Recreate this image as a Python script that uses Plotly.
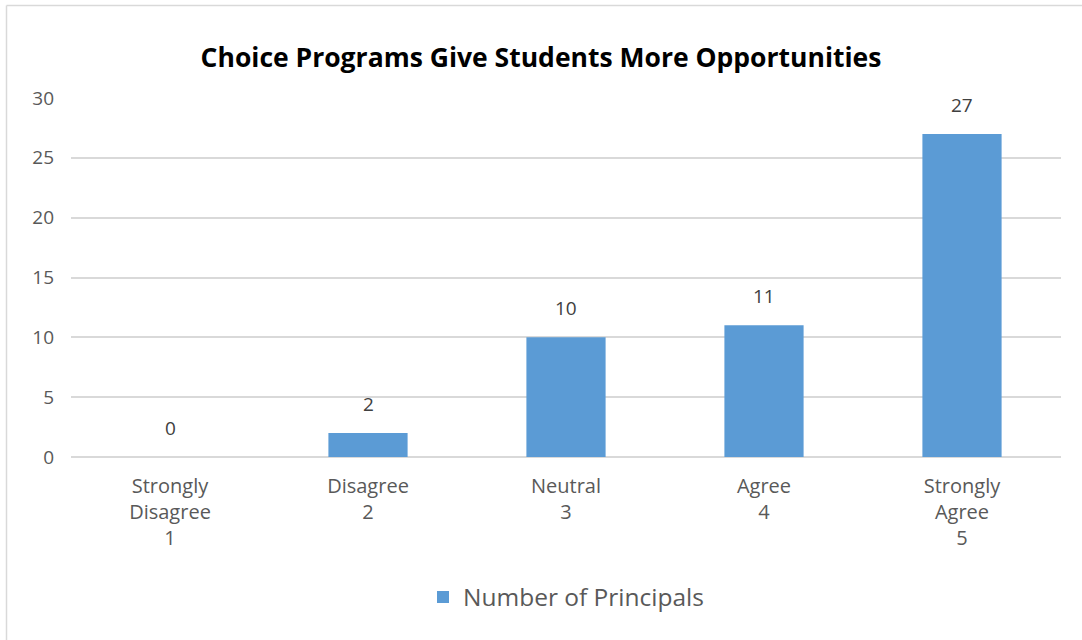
import plotly.graph_objects as go

# Survey responses
categories = ["Strongly<br>Disagree<br>1", "Disagree<br>2", "Neutral<br>3", "Agree<br>4", "Strongly<br>Agree<br>5"]
principals = [0, 2, 10, 11, 27]
y_ticks = [0, 5, 10, 15, 20, 25, 30]

BAR = "#5B9BD5"
GRID = "#D9D9D9"
TEXT = "#595959"
FONT = "Open Sans"

W, H = 1082, 640
ML, MR, MT, MB = 71, 21, 98, 183
plot_w = W - ML - MR
plot_h = H - MT - MB

fig = go.Figure(
    go.Bar(
        x=categories,
        y=principals,
        name="Number of Principals",
        marker=dict(color=BAR, line=dict(width=0)),
        cliponaxis=False,
    )
)

# value labels above each bar
for cat, val in zip(categories, principals):
    fig.add_annotation(
        x=cat, y=val, text=str(val), showarrow=False,
        yanchor="bottom", yshift=14,
        font=dict(family=FONT, size=19, color="#404040"),
    )

# chart frame (top and left edges)
fx = (6.5 - ML) / plot_w
fy = 1 + (MT - 5.5) / plot_h
fig.add_shape(type="line", xref="paper", yref="paper", x0=fx, x1=1.05, y0=fy, y1=fy,
              line=dict(color=GRID, width=1.5))
fig.add_shape(type="line", xref="paper", yref="paper", x0=fx, x1=fx, y0=fy, y1=-0.6,
              line=dict(color=GRID, width=1.5))

fig.update_layout(
    width=W,
    height=H,
    margin=dict(l=ML, r=MR, t=MT, b=MB),
    paper_bgcolor="white",
    plot_bgcolor="white",
    bargap=0.6,
    showlegend=True,
    title=dict(
        text="<b>Choice Programs Give Students More Opportunities</b>",
        font=dict(family=FONT, size=26.5, color="black"),
        x=0.5, xanchor="center", y=1 - 58 / H, yanchor="middle",
    ),
    legend=dict(
        orientation="h",
        x=0.5, xanchor="center",
        y=-0.39, yanchor="middle",
        font=dict(family=FONT, size=24.5, color=TEXT),
        itemsizing="constant",
    ),
    xaxis=dict(
        showgrid=False,
        showline=False,
        ticks="",
        ticklabelstandoff=15,
        tickfont=dict(family=FONT, size=20, color=TEXT),
    ),
    yaxis=dict(
        range=[0, 30],
        tickvals=y_ticks,
        showgrid=True,
        gridcolor=GRID,
        gridwidth=1.5,
        zeroline=True,
        zerolinecolor=GRID,
        zerolinewidth=1.5,
        showline=False,
        ticks="",
        ticklabelstandoff=16,
        tickfont=dict(family=FONT, size=19, color=TEXT),
    ),
)

fig.write_html("out.html")
